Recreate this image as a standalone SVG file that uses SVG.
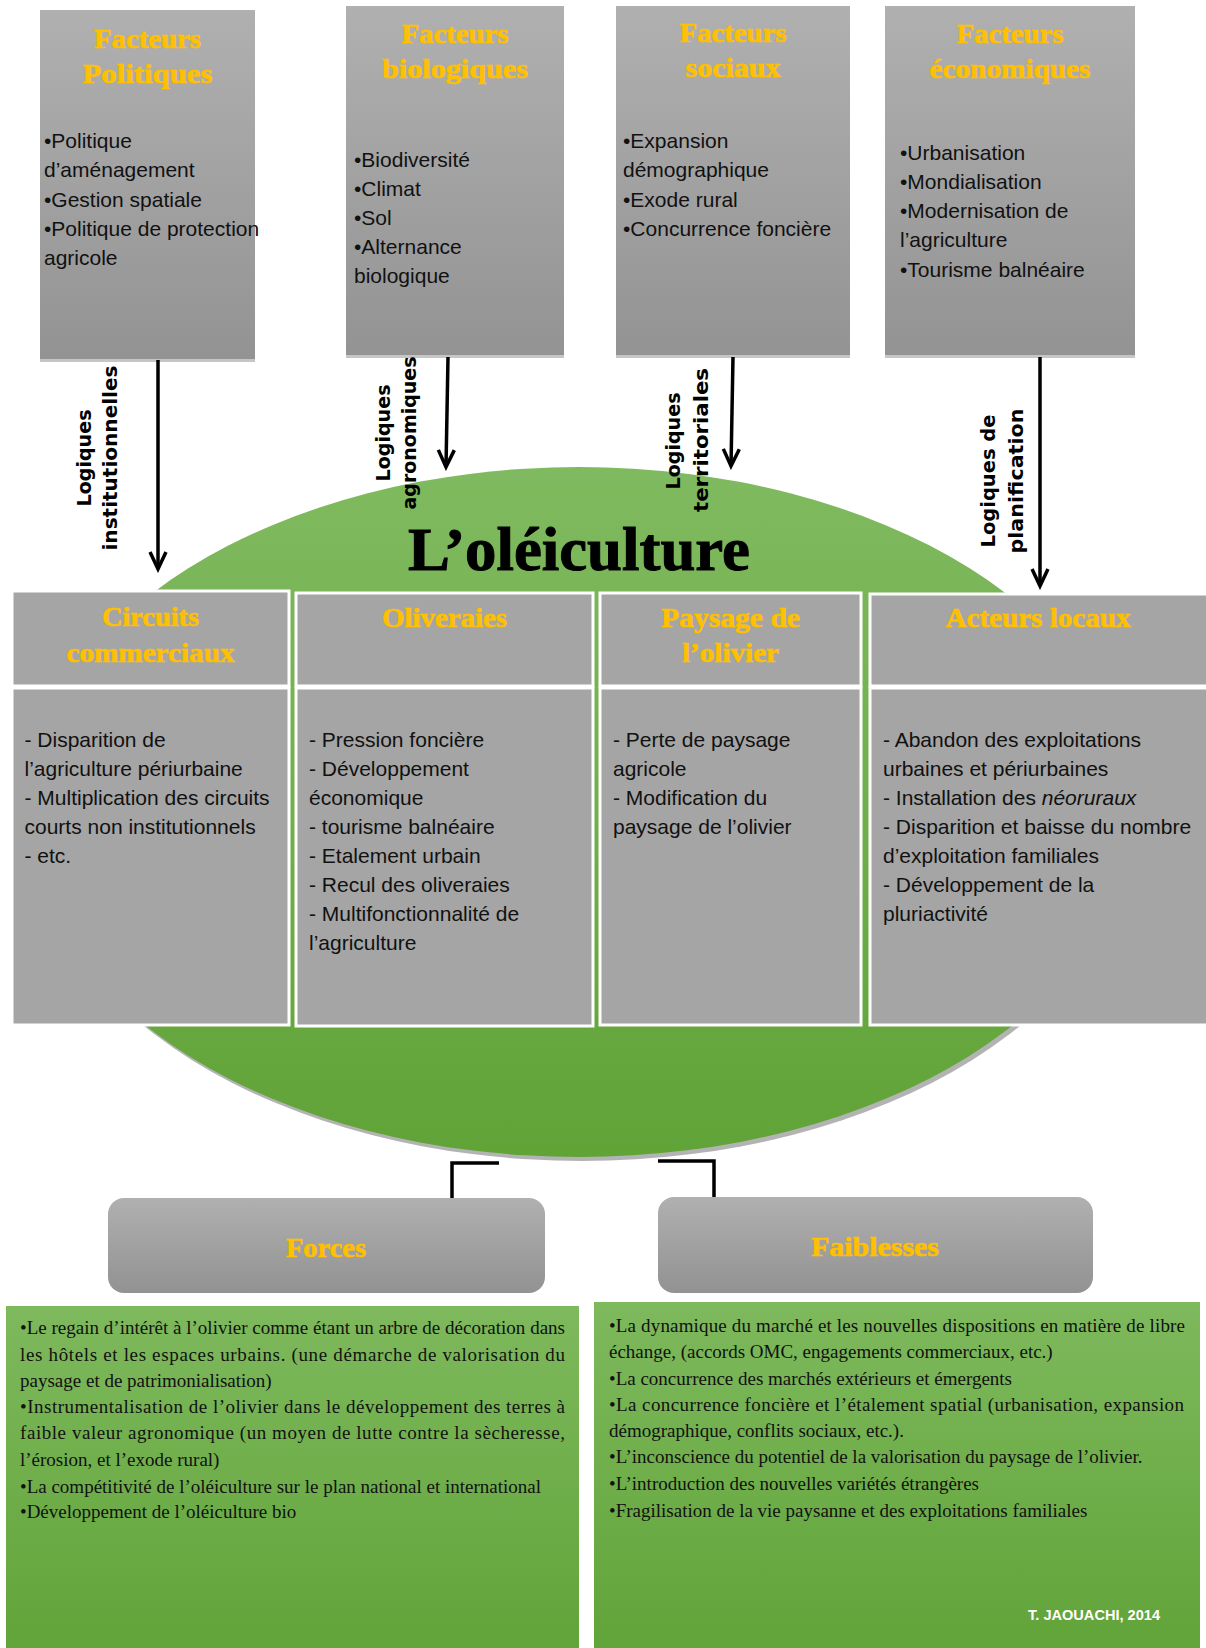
<svg xmlns="http://www.w3.org/2000/svg" width="1206" height="1648" viewBox="0 0 1206 1648">
  <defs>
    <linearGradient id="gGray" x1="0" y1="0" x2="0" y2="1">
      <stop offset="0" stop-color="#b0b0b0"/>
      <stop offset="1" stop-color="#939393"/>
    </linearGradient>
    <linearGradient id="gPill" x1="0" y1="0" x2="0" y2="1">
      <stop offset="0" stop-color="#b0b0b0"/>
      <stop offset="1" stop-color="#929292"/>
    </linearGradient>
    <linearGradient id="gEll" x1="0" y1="0" x2="0" y2="1">
      <stop offset="0" stop-color="#80ba60"/>
      <stop offset="1" stop-color="#60a337"/>
    </linearGradient>
    <linearGradient id="gGreen" x1="0" y1="0" x2="0" y2="1">
      <stop offset="0" stop-color="#7eb95d"/>
      <stop offset="1" stop-color="#61a439"/>
    </linearGradient>
    <marker id="arr" viewBox="-20 -11 24 22" refX="0" refY="0" markerWidth="24" markerHeight="22" markerUnits="userSpaceOnUse" orient="auto">
      <path d="M-17,-8 L0,0 L-17,8" fill="none" stroke="#000" stroke-width="3.5"/>
    </marker>
    <style>
      .ttl{font-family:"Liberation Serif",serif;font-weight:bold;font-size:28px;fill:#FFC000;stroke:#FFC000;stroke-width:0.6;text-anchor:middle}
      .bd{font-family:"Liberation Sans",Arial,sans-serif;font-size:21px;fill:#111}
      .sr{font-family:"Liberation Serif","Times New Roman",serif;font-size:19px;fill:#111}
      .lg{font-family:"DejaVu Sans",sans-serif;font-weight:bold;font-size:19px;fill:#000;text-anchor:middle}
      .topbox{fill:url(#gGray)}
      .strip{fill:#c6c6c6}
      .mid{fill:#a5a5a5;stroke:#fff;stroke-width:3}
      .pill{fill:url(#gPill)}
      .gbox{fill:url(#gGreen)}
      .conn{fill:none;stroke:#000;stroke-width:3.5}
    </style>
  </defs>

  <rect width="1206" height="1648" fill="#fff"/>

  <!-- central ellipse -->
  <g id="oleiculture">
    <ellipse cx="582" cy="816" rx="552" ry="345" fill="#b3b3b3"/>
    <ellipse cx="579" cy="812" rx="552" ry="345" fill="url(#gEll)"/>
    <text x="579" y="570" font-family="'Liberation Serif',serif" font-weight="bold" font-size="62" text-anchor="middle" textLength="342" lengthAdjust="spacingAndGlyphs" fill="#000" stroke="#000" stroke-width="1">L’oléiculture</text>
  </g>

  <!-- top factor boxes -->
  <g id="facteurs-politiques">
    <rect class="topbox" x="40" y="10" width="215" height="349"/>
    <rect class="strip" x="40" y="359" width="215" height="3"/>
    <text class="ttl" x="147.5" y="48" textLength="107" lengthAdjust="spacingAndGlyphs">Facteurs</text>
    <text class="ttl" x="147.5" y="83" textLength="130" lengthAdjust="spacingAndGlyphs">Politiques</text>
    <text class="bd" x="44" y="148">•Politique</text>
    <text class="bd" x="44" y="177">d’aménagement</text>
    <text class="bd" x="44" y="207">•Gestion spatiale</text>
    <text class="bd" x="44" y="236">•Politique de protection</text>
    <text class="bd" x="44" y="265">agricole</text>
  </g>
  <g id="facteurs-biologiques">
    <rect class="topbox" x="346" y="6" width="218" height="349"/>
    <rect class="strip" x="346" y="355" width="218" height="3"/>
    <text class="ttl" x="455" y="43" textLength="107" lengthAdjust="spacingAndGlyphs">Facteurs</text>
    <text class="ttl" x="455" y="78" textLength="146" lengthAdjust="spacingAndGlyphs">biologiques</text>
    <text class="bd" x="354" y="167">•Biodiversité</text>
    <text class="bd" x="354" y="196">•Climat</text>
    <text class="bd" x="354" y="225">•Sol</text>
    <text class="bd" x="354" y="254">•Alternance</text>
    <text class="bd" x="354" y="283">biologique</text>
  </g>
  <g id="facteurs-sociaux">
    <rect class="topbox" x="616" y="6" width="234" height="349"/>
    <rect class="strip" x="616" y="355" width="234" height="3"/>
    <text class="ttl" x="733" y="42" textLength="107" lengthAdjust="spacingAndGlyphs">Facteurs</text>
    <text class="ttl" x="733" y="77" textLength="95" lengthAdjust="spacingAndGlyphs">sociaux</text>
    <text class="bd" x="623" y="148">•Expansion</text>
    <text class="bd" x="623" y="177">démographique</text>
    <text class="bd" x="623" y="207">•Exode rural</text>
    <text class="bd" x="623" y="236">•Concurrence foncière</text>
  </g>
  <g id="facteurs-economiques">
    <rect class="topbox" x="885" y="6" width="250" height="349"/>
    <rect class="strip" x="885" y="355" width="250" height="3"/>
    <text class="ttl" x="1010" y="43" textLength="107" lengthAdjust="spacingAndGlyphs">Facteurs</text>
    <text class="ttl" x="1010" y="78" textLength="161" lengthAdjust="spacingAndGlyphs">économiques</text>
    <text class="bd" x="900" y="160">•Urbanisation</text>
    <text class="bd" x="900" y="189">•Mondialisation</text>
    <text class="bd" x="900" y="218">•Modernisation de</text>
    <text class="bd" x="900" y="247">l’agriculture</text>
    <text class="bd" x="900" y="277">•Tourisme balnéaire</text>
  </g>

  <!-- middle boxes -->
  <g id="circuits-commerciaux">
    <rect class="mid" x="12" y="591" width="277" height="95"/>
    <rect class="mid" x="12" y="688" width="277" height="337"/>
    <text class="ttl" x="150.5" y="626" textLength="97" lengthAdjust="spacingAndGlyphs">Circuits</text>
    <text class="ttl" x="150.5" y="662" textLength="168" lengthAdjust="spacingAndGlyphs">commerciaux</text>
    <text class="bd" x="24.5" y="747">- Disparition de</text>
    <text class="bd" x="24.5" y="776">l’agriculture périurbaine</text>
    <text class="bd" x="24.5" y="805">- Multiplication des circuits</text>
    <text class="bd" x="24.5" y="834">courts non institutionnels</text>
    <text class="bd" x="24.5" y="863">- etc.</text>
  </g>
  <g id="oliveraies">
    <rect class="mid" x="296" y="593" width="297" height="93"/>
    <rect class="mid" x="296" y="688" width="297" height="338"/>
    <text class="ttl" x="444.5" y="627" textLength="125" lengthAdjust="spacingAndGlyphs">Oliveraies</text>
    <text class="bd" x="309" y="747">- Pression foncière</text>
    <text class="bd" x="309" y="776">- Développement</text>
    <text class="bd" x="309" y="805">économique</text>
    <text class="bd" x="309" y="834">- tourisme balnéaire</text>
    <text class="bd" x="309" y="863">- Etalement urbain</text>
    <text class="bd" x="309" y="892">- Recul des oliveraies</text>
    <text class="bd" x="309" y="921">- Multifonctionnalité de</text>
    <text class="bd" x="309" y="950">l’agriculture</text>
  </g>
  <g id="paysage-olivier">
    <rect class="mid" x="600" y="593" width="261" height="93"/>
    <rect class="mid" x="600" y="688" width="261" height="337"/>
    <text class="ttl" x="730.5" y="627" textLength="139" lengthAdjust="spacingAndGlyphs">Paysage de</text>
    <text class="ttl" x="730.5" y="662" textLength="97" lengthAdjust="spacingAndGlyphs">l’olivier</text>
    <text class="bd" x="613" y="747">- Perte de paysage</text>
    <text class="bd" x="613" y="776">agricole</text>
    <text class="bd" x="613" y="805">- Modification du</text>
    <text class="bd" x="613" y="834">paysage de l’olivier</text>
  </g>
  <g id="acteurs-locaux">
    <rect class="mid" x="870" y="594" width="338" height="92"/>
    <rect class="mid" x="870" y="688" width="338" height="337"/>
    <text class="ttl" x="1038" y="627" textLength="185" lengthAdjust="spacingAndGlyphs">Acteurs locaux</text>
    <text class="bd" x="883" y="747">- Abandon des exploitations</text>
    <text class="bd" x="883" y="776">urbaines et périurbaines</text>
    <text class="bd" x="883" y="805">- Installation des <tspan font-style="italic">néoruraux</tspan></text>
    <text class="bd" x="883" y="834">- Disparition et baisse du nombre</text>
    <text class="bd" x="883" y="863">d’exploitation familiales</text>
    <text class="bd" x="883" y="892">- Développement de la</text>
    <text class="bd" x="883" y="921">pluriactivité</text>
  </g>

  <!-- Forces / Faiblesses -->
  <g id="forces">
    <rect class="pill" x="108" y="1198" width="437" height="95" rx="16"/>
    <text class="ttl" x="326" y="1257" textLength="80" lengthAdjust="spacingAndGlyphs">Forces</text>
  </g>
  <g id="faiblesses">
    <rect class="pill" x="658" y="1197" width="435" height="96" rx="16"/>
    <text class="ttl" x="875" y="1256" textLength="128" lengthAdjust="spacingAndGlyphs">Faiblesses</text>
  </g>

  <g id="forces-liste">
    <rect class="gbox" x="6" y="1306" width="573" height="342"/>
    <text class="sr" x="20" y="1334" textLength="545" lengthAdjust="spacing">•Le regain d’intérêt à l’olivier comme étant un arbre de décoration dans</text>
    <text class="sr" x="20" y="1361" textLength="545" lengthAdjust="spacing">les hôtels et les espaces urbains. (une démarche de valorisation du</text>
    <text class="sr" x="20" y="1387">paysage et de patrimonialisation)</text>
    <text class="sr" x="20" y="1413" textLength="545" lengthAdjust="spacing">•Instrumentalisation de l’olivier dans le développement des terres à</text>
    <text class="sr" x="20" y="1439" textLength="545" lengthAdjust="spacing">faible valeur agronomique (un moyen de lutte contre la sècheresse,</text>
    <text class="sr" x="20" y="1466">l’érosion, et l’exode rural)</text>
    <text class="sr" x="20" y="1493">•La compétitivité de l’oléiculture sur le plan national et international</text>
    <text class="sr" x="20" y="1518">•Développement de l’oléiculture bio</text>
  </g>
  <g id="faiblesses-liste">
    <rect class="gbox" x="594" y="1302" width="606" height="346"/>
    <text class="sr" x="609" y="1332" textLength="576" lengthAdjust="spacing">•La dynamique du marché et les nouvelles dispositions en matière de libre</text>
    <text class="sr" x="609" y="1358">échange, (accords OMC, engagements commerciaux, etc.)</text>
    <text class="sr" x="609" y="1385">•La concurrence des marchés extérieurs et émergents</text>
    <text class="sr" x="609" y="1411" textLength="575" lengthAdjust="spacing">•La concurrence foncière et l’étalement spatial (urbanisation, expansion</text>
    <text class="sr" x="609" y="1437">démographique, conflits sociaux, etc.).</text>
    <text class="sr" x="609" y="1463">•L’inconscience du potentiel de la valorisation du paysage de l’olivier.</text>
    <text class="sr" x="609" y="1490">•L’introduction des nouvelles variétés étrangères</text>
    <text class="sr" x="609" y="1517">•Fragilisation de la vie paysanne et des exploitations familiales</text>
    <text x="1094" y="1620" font-family="'Liberation Sans',Arial,sans-serif" font-weight="bold" font-size="15" fill="#fff" text-anchor="middle" textLength="132" lengthAdjust="spacingAndGlyphs">T. JAOUACHI, 2014</text>
  </g>

  <!-- connectors -->
  <g id="connectors">
    <line class="conn" x1="158" y1="360" x2="158" y2="569" marker-end="url(#arr)"/>
    <line class="conn" x1="448" y1="357" x2="446" y2="467" marker-end="url(#arr)"/>
    <line class="conn" x1="733" y1="357" x2="731" y2="466" marker-end="url(#arr)"/>
    <line class="conn" x1="1040" y1="357" x2="1040" y2="586" marker-end="url(#arr)"/>
    <path class="conn" d="M499,1163 H452 V1198" stroke-width="3"/>
    <path class="conn" d="M658,1161 H714 V1197" stroke-width="3"/>
    <text class="lg" transform="translate(91,458) rotate(-90)" textLength="97" lengthAdjust="spacingAndGlyphs">Logiques</text>
    <text class="lg" transform="translate(117,458) rotate(-90)" textLength="185" lengthAdjust="spacingAndGlyphs">institutionnelles</text>
    <text class="lg" transform="translate(390,433) rotate(-90)" textLength="97" lengthAdjust="spacingAndGlyphs">Logiques</text>
    <text class="lg" transform="translate(416,433) rotate(-90)" textLength="153" lengthAdjust="spacingAndGlyphs">agronomiques</text>
    <text class="lg" transform="translate(680,441) rotate(-90)" textLength="97" lengthAdjust="spacingAndGlyphs">Logiques</text>
    <text class="lg" transform="translate(708,440) rotate(-90)" textLength="144" lengthAdjust="spacingAndGlyphs">territoriales</text>
    <text class="lg" transform="translate(995,481) rotate(-90)" textLength="133" lengthAdjust="spacingAndGlyphs">Logiques de</text>
    <text class="lg" transform="translate(1023,481) rotate(-90)" textLength="145" lengthAdjust="spacingAndGlyphs">planification</text>
  </g>
</svg>
